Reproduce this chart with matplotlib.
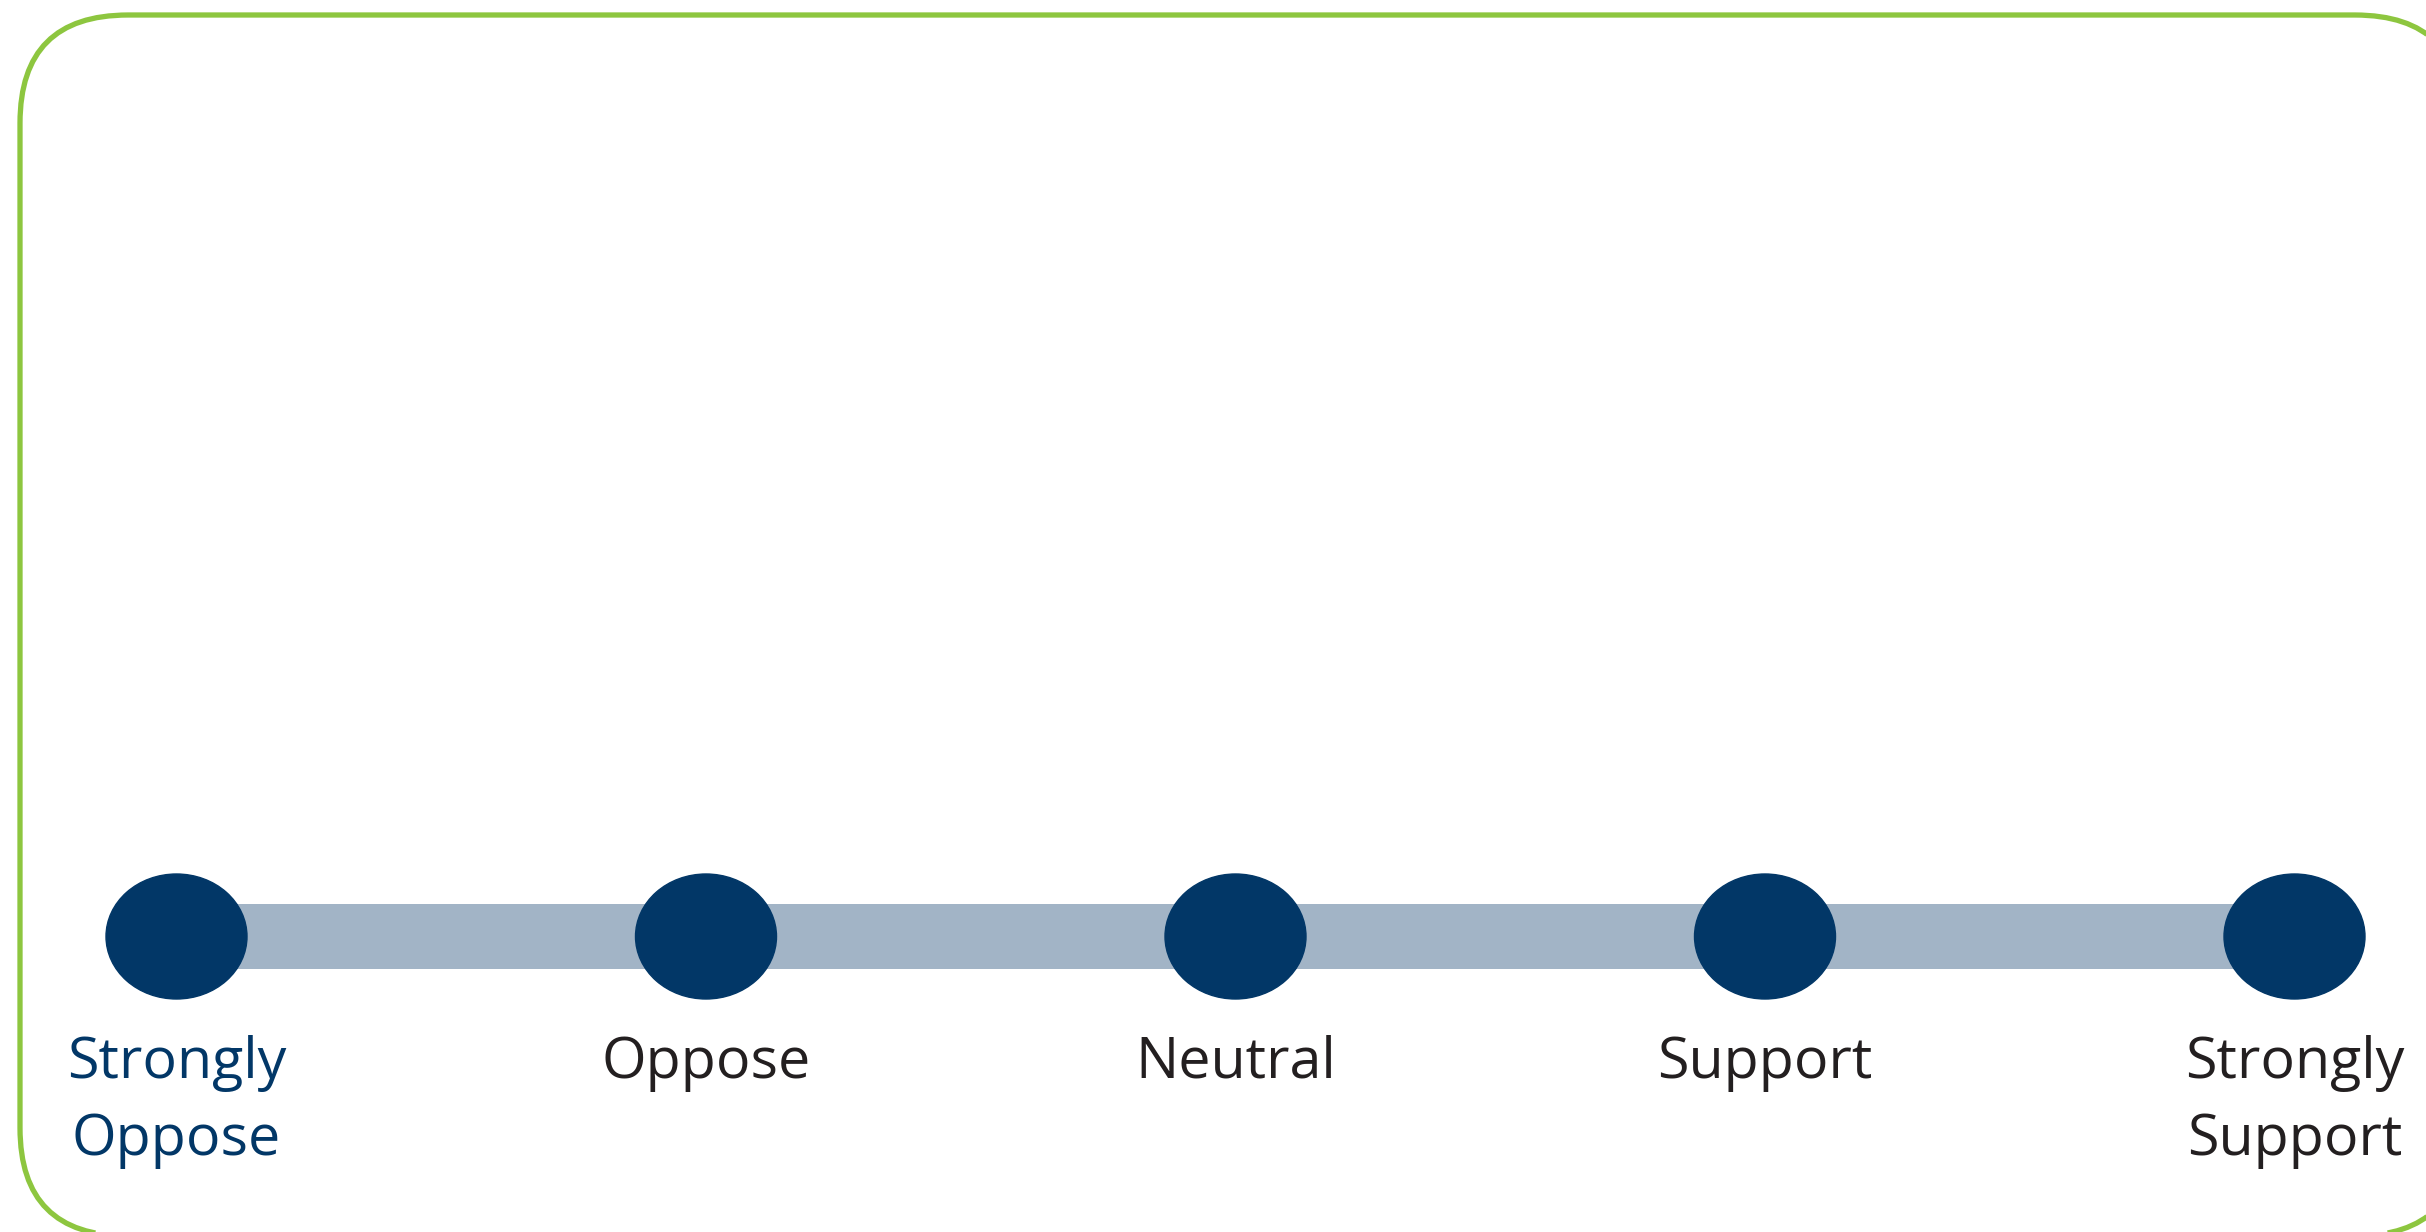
#!/usr/bin/env python3
"""Likert scale graphic: five points on a horizontal bar inside a rounded green frame."""
import matplotlib

matplotlib.use("Agg")
import matplotlib.pyplot as plt
from matplotlib.patches import Ellipse, FancyBboxPatch, Polygon


# scale points, left to right
categories = ["Strongly\nOppose", "Oppose", "Neutral", "Support", "Strongly\nSupport"]
label_colors = ["#023767", "#231F20", "#231F20", "#231F20", "#231F20"]

NAVY = "#023767"
BAR = "#A2B4C6"
GREEN = "#8DC63F"

W, H = 2426, 1232
DPI = 100


def main():
    plt.rcParams["font.family"] = ["Open Sans", "DejaVu Sans"]

    fig = plt.figure(figsize=(W / DPI, H / DPI), dpi=DPI)
    fig.patch.set_facecolor("white")

    # frame layer, in pixel units (y up), runs off the right and bottom edges
    bg = fig.add_axes([0, 0, 1, 1])
    bg.set_xlim(0, W)
    bg.set_ylim(0, H)
    bg.axis("off")
    box = FancyBboxPatch((20, -4), 2443, 1221,
                         boxstyle="round,pad=0,rounding_size=108")
    # flatten the curves so off-canvas clipping doesn't bend them
    outline = box.get_path().to_polygons()[0]
    bg.add_patch(Polygon(outline, closed=True, fill=False, edgecolor=GREEN,
                         linewidth=3.8, clip_on=False))

    # scale layer: x in category index, y in pixels from the top
    ax = fig.add_axes([0, 0, 1, 1])
    ax.patch.set_alpha(0)
    step = 529.5  # pixels per category
    ax.set_xlim(-176.5 / step, len(categories) - 1 + (W - 2294.5) / step)
    ax.set_ylim(H, 0)
    ax.axis("off")

    row_y = 936.5
    n = len(categories)
    ax.barh(row_y, n - 1, left=0, height=65, color=BAR, zorder=1)

    for i, (label, color) in enumerate(zip(categories, label_colors)):
        ax.add_patch(Ellipse((i, row_y), 141 / step, 125, color=NAVY, zorder=2))
        for k, line in enumerate(label.split("\n")):
            ax.text(i, 1078 + 77 * k, line, ha="center", va="baseline",
                    fontsize=41.3, color=color)

    fig.savefig("out.png", dpi=DPI)
    plt.close(fig)


if __name__ == "__main__":
    main()
